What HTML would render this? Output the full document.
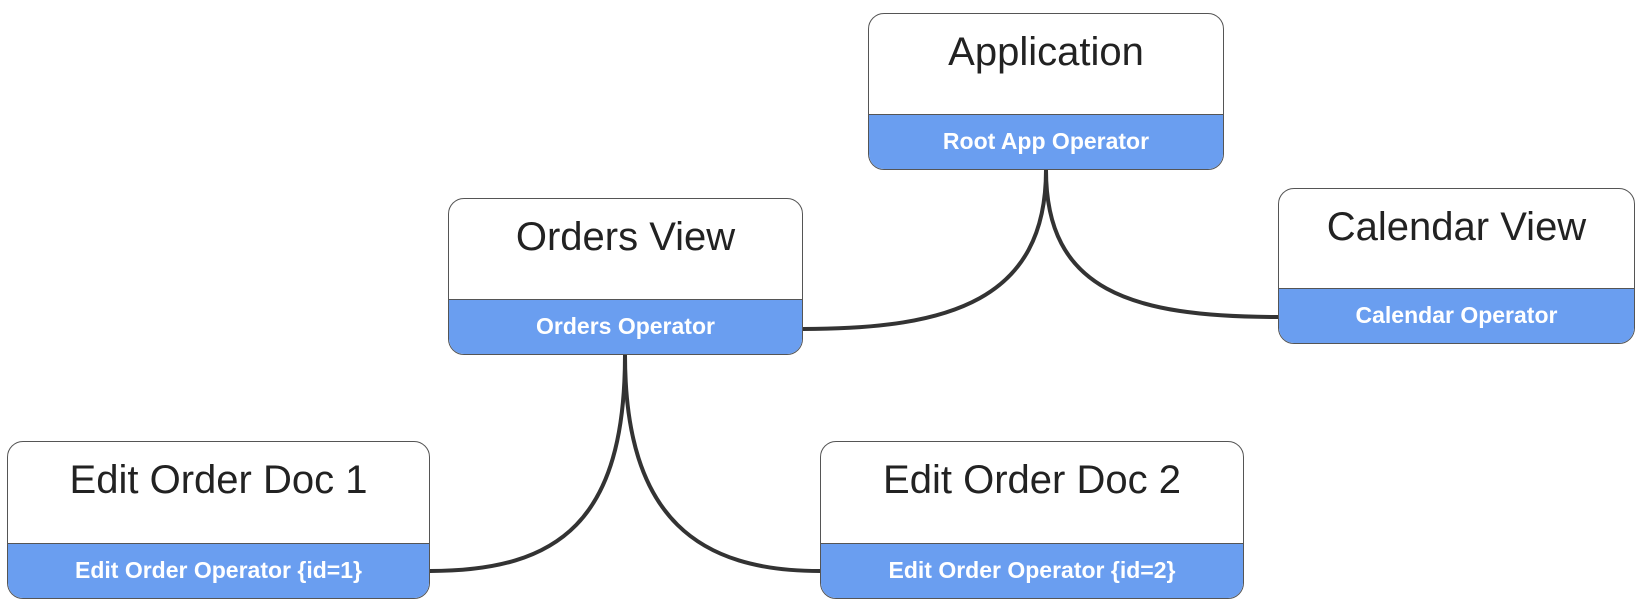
<!DOCTYPE html>
<html><head><style>
body{margin:0;width:1644px;height:608px;background:#fff;position:relative;overflow:hidden;font-family:"Liberation Sans",sans-serif}
.n{position:absolute;border:1px solid #555;border-radius:16px;background:#fff;overflow:hidden;box-sizing:border-box}
.t{position:absolute;left:0;right:0;top:16px;text-align:center;font-size:40px;color:#222}
.b{position:absolute;left:0;right:0;bottom:0;height:54px;background:#6a9ef0;border-top:1px solid #555;color:#fff;font-weight:bold;font-size:23px;text-align:center;line-height:52px}
svg{position:absolute;left:0;top:0}
</style></head><body>
<svg width="1644" height="608"><g fill="none" stroke="#333" stroke-width="4">
<path d="M1046,170 C1046,300 950,329 803,329"/>
<path d="M1046,170 C1046,290 1130,317 1278,317"/>
<path d="M625,355 C625,520 560,571 430,571"/>
<path d="M625,355 C625,520 700,571 820,571"/>
</g></svg>
<div class="n" style="left:868px;top:13px;width:356px;height:157px"><div class="t">Application</div><div class="b">Root App Operator</div></div>
<div class="n" style="left:448px;top:198px;width:355px;height:157px"><div class="t">Orders View</div><div class="b">Orders Operator</div></div>
<div class="n" style="left:1278px;top:188px;width:357px;height:156px"><div class="t">Calendar View</div><div class="b">Calendar Operator</div></div>
<div class="n" style="left:7px;top:441px;width:423px;height:158px"><div class="t">Edit Order Doc 1</div><div class="b">Edit Order Operator {id=1}</div></div>
<div class="n" style="left:820px;top:441px;width:424px;height:158px"><div class="t">Edit Order Doc 2</div><div class="b">Edit Order Operator {id=2}</div></div>
</body></html>
